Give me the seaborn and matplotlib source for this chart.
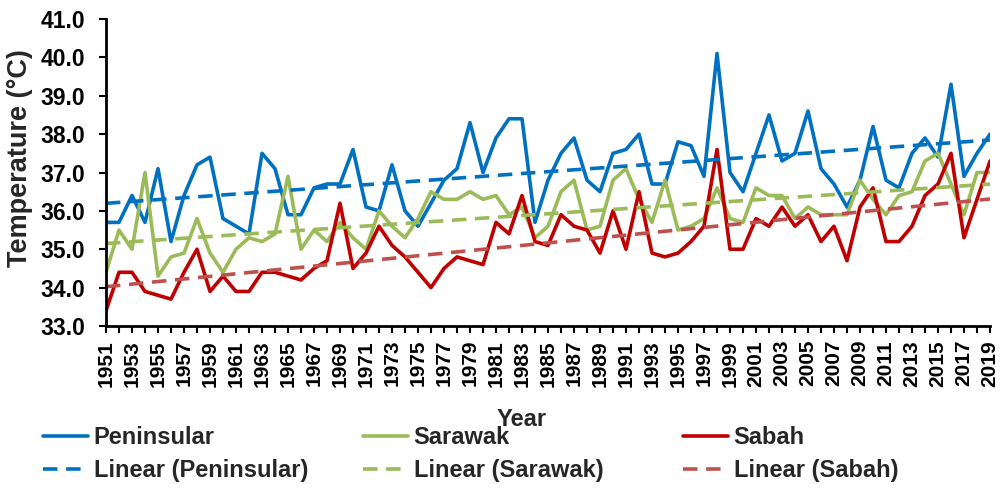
import numpy as np
import pandas as pd
import matplotlib
matplotlib.use('Agg')
import matplotlib.pyplot as plt
from matplotlib.ticker import FormatStrFormatter
import seaborn as sns

# Annual maximum temperature (°C), 1951-2019
years = np.arange(1951, 2020)
peninsular = [35.7, 35.7, 36.4, 35.7, 37.1, 35.2, 36.4, 37.2, 37.4, 35.8,
              35.6, 35.4, 37.5, 37.1, 35.9, 35.9, 36.6, 36.7, 36.7, 37.6,
              36.1, 36.0, 37.2, 36.0, 35.6, 36.2, 36.8, 37.1, 38.3, 37.0,
              37.9, 38.4, 38.4, 35.7, 36.8, 37.5, 37.9, 36.8, 36.5, 37.5,
              37.6, 38.0, 36.7, 36.7, 37.8, 37.7, 36.9, 40.1, 37.0, 36.5,
              37.5, 38.5, 37.3, 37.5, 38.6, 37.1, 36.7, 36.1, 36.8, 38.2,
              36.8, 36.6, 37.5, 37.9, 37.4, 39.3, 36.9, 37.5, 38.0]
sarawak = [34.4, 35.5, 35.0, 37.0, 34.3, 34.8, 34.9, 35.8, 34.9, 34.4,
           35.0, 35.3, 35.2, 35.4, 36.9, 35.0, 35.5, 35.2, 35.7, 35.3,
           35.0, 36.0, 35.6, 35.3, 35.8, 36.5, 36.3, 36.3, 36.5, 36.3,
           36.4, 35.9, 36.1, 35.3, 35.6, 36.5, 36.8, 35.5, 35.6, 36.8,
           37.1, 36.3, 35.7, 36.8, 35.5, 35.6, 35.8, 36.6, 35.8, 35.7,
           36.6, 36.4, 36.4, 35.8, 36.1, 35.9, 35.9, 35.9, 36.8, 36.3,
           35.9, 36.4, 36.5, 37.3, 37.5, 36.7, 35.9, 37.0, 37.0]
sabah = [33.4, 34.4, 34.4, 33.9, 33.8, 33.7, 34.4, 35.0, 33.9, 34.3,
         33.9, 33.9, 34.4, 34.4, 34.3, 34.2, 34.5, 34.7, 36.2, 34.5,
         34.9, 35.6, 35.1, 34.8, 34.4, 34.0, 34.5, 34.8, 34.7, 34.6,
         35.7, 35.4, 36.4, 35.2, 35.1, 35.9, 35.6, 35.5, 34.9, 36.0,
         35.0, 36.5, 34.9, 34.8, 34.9, 35.2, 35.6, 37.6, 35.0, 35.0,
         35.8, 35.6, 36.1, 35.6, 35.9, 35.2, 35.6, 34.7, 36.1, 36.6,
         35.2, 35.2, 35.6, 36.4, 36.7, 37.5, 35.3, 36.3, 37.3]

regions = ['Peninsular', 'Sarawak', 'Sabah']
line_colors = {'Peninsular': '#0070C0', 'Sarawak': '#9BBB59', 'Sabah': '#C00000'}
trend_colors = {'Peninsular': '#0070C0', 'Sarawak': '#9BBB59', 'Sabah': '#C0504D'}

df = pd.DataFrame({'Year': years, 'Peninsular': peninsular,
                   'Sarawak': sarawak, 'Sabah': sabah})

sns.set_theme(style='ticks')
plt.rcParams['font.family'] = ['Liberation Sans', 'DejaVu Sans']
plt.rcParams['font.weight'] = 'bold'

fig = plt.figure(figsize=(10, 4.9), dpi=100)
ax = fig.add_axes([0.106, 0.3347, 0.884, 0.6265])

series_lines = {}
trend_lines = {}

# Series lines
for name in regions:
    sns.lineplot(data=df, x='Year', y=name, color=line_colors[name],
                 linewidth=2.6, ax=ax, legend=False)
    series_lines[name] = ax.get_lines()[-1]

# Linear trend lines
for name in regions:
    sns.regplot(data=df, x='Year', y=name, scatter=False, ci=None,
                truncate=True, color=trend_colors[name], ax=ax,
                line_kws=dict(linestyle=(0, (4.0, 2.4)), linewidth=2.6))
    trend_lines[name] = ax.get_lines()[-1]

if ax.get_legend() is not None:
    ax.get_legend().remove()

ax.set_xlim(1951, 2019)
ax.set_ylim(33, 41)
ax.set_xticks(years)
ax.set_xticklabels([str(y) if (y - 1951) % 2 == 0 else '' for y in years],
                   rotation=90, fontweight='bold')
ax.set_yticks(np.arange(33, 41.1, 1.0))
ax.yaxis.set_major_formatter(FormatStrFormatter('%.1f'))
ax.tick_params(axis='both', direction='out', length=5, width=1.5,
               color='black', labelcolor='black')
ax.tick_params(axis='y', labelsize=16.5, pad=10)
ax.tick_params(axis='x', labelsize=15, pad=5)
for lab in ax.get_yticklabels():
    lab.set_fontweight('bold')
sns.despine(ax=ax)
for s in ['left', 'bottom']:
    ax.spines[s].set_color('black')
    ax.spines[s].set_linewidth(2)
ax.set_xlabel('')
ax.set_ylabel('')

fig.text(0.020, 1 - 158 / 490, 'Temperature (°C)', rotation=90,
         ha='center', va='center', fontsize=19.5, fontweight='bold')
fig.text(0.522, 1 - 420 / 490, 'Year', ha='center', va='center',
         fontsize=17, fontweight='bold')

# Legend: three columns placed separately
col_x = [0.043, 0.363, 0.683]
for x0, name in zip(col_x, regions):
    fig.legend([series_lines[name], trend_lines[name]],
               [name, f'Linear ({name})'],
               loc='center left', bbox_to_anchor=(x0, 1 - 454 / 490),
               frameon=False, borderpad=0, borderaxespad=0,
               handlelength=1.9, handletextpad=0.25, labelspacing=0.42,
               prop=dict(size=17, weight='bold'))

fig.savefig('out.png', dpi=100)
